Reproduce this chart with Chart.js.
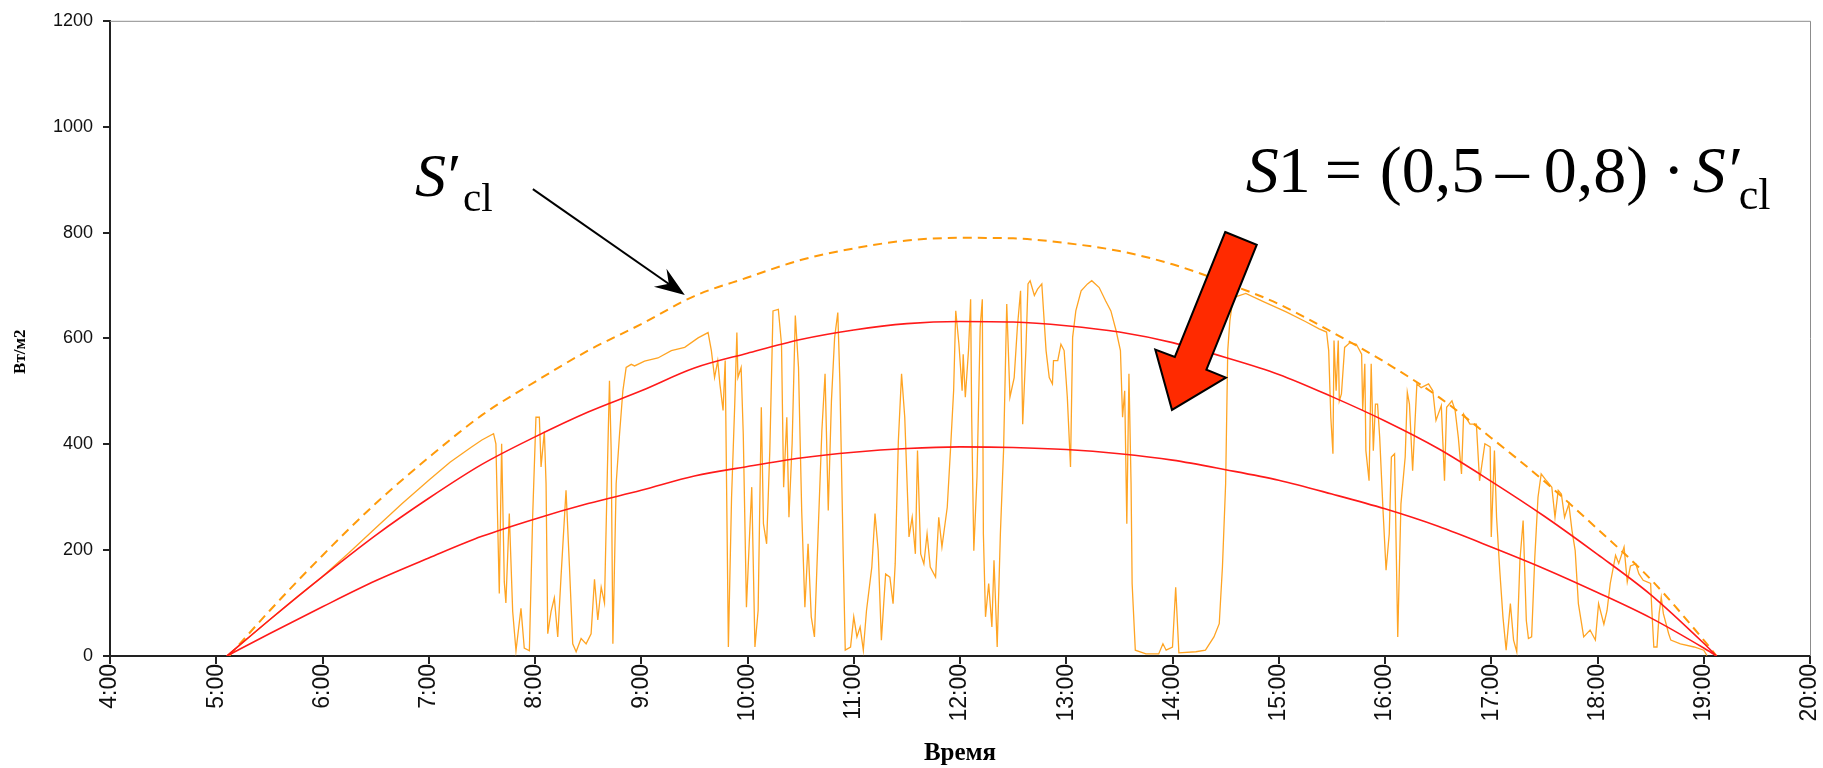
<!DOCTYPE html>
<html>
<head>
<meta charset="utf-8">
<script src="https://cdn.jsdelivr.net/npm/chart.js@4.4.1/dist/chart.umd.min.js"></script>
<style>
html,body{margin:0;padding:0;background:#fff;}
canvas{display:block;}
</style>
</head>
<body>
<canvas id="c" width="1823" height="768"></canvas>
<script>
// ---- data (hours of day, W/m2) ----
const xTickHours = [4,5,6,7,8,9,10,11,12,13,14,15,16,17,18,19,20];
const yTicks = [0,200,400,600,800,1000,1200];

const clearHours = [5.12,5.5,6.0,6.5,7.0,7.5,8.0,8.5,9.0,9.5,10.0,10.5,11.0,11.5,12.0,12.5,13.0,13.5,14.0,14.5,15.0,15.5,16.0,16.5,17.0,17.5,18.0,18.5,19.0,19.12];
const clearSky   = [0,85,190,288,375,455,518,577,627,680,715,748,770,785,790,789,780,765,740,705,665,612,555,490,412,330,240,145,30,0];

const s1Hours = [5.1,5.5,6.0,6.5,7.0,7.5,8.0,8.5,9.0,9.5,10.0,10.5,11.0,11.5,12.0,12.5,13.0,13.5,14.0,14.5,15.0,15.5,16.0,16.5,17.0,17.5,18.0,18.5,19.0,19.12];
const s1Upper = [0,68,150,228,298,362,414,461,501,544,572,598,616,628,632,631,624,612,592,564,532,490,444,392,330,264,192,116,24,0];
const s1Lower = [0,42,93,142,185,226,259,288,313,340,358,374,385,392,395,394,390,382,370,352,332,306,278,245,206,165,120,72,15,0];

const measuredHours = [
5.10,5.3,5.5,5.75,6.0,6.25,6.5,6.75,7.0,7.2,7.396,7.5,7.61,7.632,7.664,7.686,7.711,7.726,7.758,7.790,7.821,7.868,7.899,7.947,7.978,
8.009,8.041,8.057,8.088,8.104,8.120,8.151,8.182,8.214,8.245,8.292,8.324,8.355,8.387,8.434,8.481,8.528,8.560,8.591,8.623,8.654,8.686,8.701,8.717,8.733,8.764,8.796,8.827,8.858,8.906,8.937,
9.031,9.157,9.283,9.409,9.535,9.629,9.66,9.69,9.72,9.74,9.77,9.79,9.82,9.85,9.88,9.90,9.91,9.94,9.96,9.99,
10.02,10.04,10.07,10.10,10.13,10.15,10.18,10.21,10.24,10.29,10.32,10.34,10.37,10.39,10.42,10.45,10.48,10.51,10.54,10.57,10.60,10.63,10.67,10.70,10.73,10.76,10.79,10.82,10.85,10.87,10.90,10.92,10.97,
11.0,11.03,11.06,11.09,11.12,11.17,11.20,11.23,11.26,11.30,11.34,11.37,11.39,11.42,11.45,11.48,11.52,11.55,11.58,11.60,11.63,11.66,11.69,11.72,11.77,11.80,11.83,11.88,11.91,11.94,11.96,11.99,
12.02,12.03,12.05,12.08,12.10,12.11,12.13,12.16,12.19,12.21,12.22,12.24,12.27,12.30,12.32,12.35,12.38,12.41,12.44,12.47,12.51,12.54,12.57,12.59,12.62,12.64,12.66,12.70,12.73,12.77,12.81,12.84,12.87,12.88,12.92,12.95,12.98,
13.01,13.04,13.06,13.09,13.14,13.20,13.24,13.31,13.37,13.42,13.47,13.51,13.53,13.55,13.57,13.59,13.61,13.62,13.65,13.75,13.87,13.91,13.94,
14.0,14.03,14.06,14.22,14.31,14.39,14.44,14.47,14.50,14.52,14.54,14.57,14.69,14.85,
15.07,15.25,15.38,15.45,15.47,15.49,15.51,15.52,15.54,15.56,15.57,15.59,15.62,15.67,15.73,15.78,15.79,15.81,15.82,15.85,15.87,15.89,15.91,15.93,15.95,15.98,
16.01,16.04,16.06,16.09,16.12,16.15,16.19,16.21,16.23,16.26,16.30,16.34,16.41,16.45,16.48,16.53,16.56,16.58,16.63,16.66,16.69,16.72,16.74,16.80,16.86,16.89,16.94,16.99,
17.0,17.03,17.05,17.08,17.11,17.14,17.18,17.21,17.24,17.27,17.30,17.33,17.35,17.38,17.41,17.44,17.47,17.52,17.57,17.60,17.63,17.66,17.69,17.73,17.76,17.79,17.82,17.87,17.93,17.98,
18.01,18.06,18.09,18.12,18.17,18.20,18.25,18.28,18.31,18.36,18.39,18.43,18.50,18.51,18.53,18.56,18.58,18.60,18.62,18.67,18.69,18.78,18.91,19.0,19.03
];
const measuredValues = [
0,34,68,110,150,195,242,288,332,366,394,408,420,401,118,401,140,100,269,84,10,90,15,10,264,
451,451,357,424,326,42,84,110,36,150,313,170,23,8,33,23,42,145,68,130,100,394,520,388,23,326,420,501,545,551,548,
557,563,577,583,601,611,577,526,558,514,464,558,17,300,476,611,526,545,420,92,
231,319,17,86,470,250,212,388,652,655,589,319,451,262,401,643,545,275,92,212,74,36,262,426,533,275,482,602,649,514,199,11,17,
74,36,55,11,86,168,269,199,30,155,149,99,174,407,533,451,225,262,193,388,193,174,231,168,149,262,206,281,388,501,652,589,
501,570,489,577,674,451,199,338,621,674,231,74,137,55,181,17,231,388,665,489,526,621,690,438,577,703,709,681,693,703,577,526,514,558,558,589,577,
489,357,602,652,690,703,709,696,671,652,614,577,451,501,250,533,325,137,11,4,4,23,11,
17,130,6,8,11,36,61,168,325,577,633,677,685,670,
650,632,618,612,577,451,382,596,501,596,482,495,583,592,589,570,464,552,388,331,552,388,476,476,413,281,
162,231,376,382,36,287,376,498,476,350,514,507,514,501,445,473,331,470,482,464,413,344,457,438,438,331,401,395,
225,388,262,162,74,11,99,30,8,181,256,67,33,36,187,300,344,331,319,262,313,306,262,287,237,199,99,36,49,30,
99,60,86,137,190,175,206,140,170,174,155,143,137,92,17,17,80,111,80,42,30,23,17,11,1
];

// annotation anchors in data coordinates (hours, W/m2)
const blackArrow = {from:[7.98,882], to:[9.41,682]};
const redArrow = [[14.496,801],[14.793,777],[14.319,541],[14.503,526],[13.995,465],[13.838,579],[14.022,565]];
const labelScl = [6.87,869];
const labelFormula = [14.69,877];

const pts = (xs, ys) => xs.map((h,i)=>({x:h, y:ys[i]}));

const annot = {
  id:'annot',
  beforeDatasetsDraw(chart){
    const {ctx, chartArea:a} = chart;
    ctx.save();
    ctx.strokeStyle = '#8c8c8c';
    ctx.lineWidth = 1;
    ctx.beginPath();
    ctx.moveTo(a.left, a.top+0.5); ctx.lineTo(a.right+0.5, a.top+0.5); ctx.lineTo(a.right+0.5, a.bottom);
    ctx.stroke();
    ctx.restore();
  },
  afterDraw(chart){
    const {ctx, scales:{x,y}} = chart;
    const P = p => [x.getPixelForValue(p[0]), y.getPixelForValue(p[1])];
    const serif = '"Liberation Serif", "Times New Roman", serif';
    ctx.save();
    // y axis title
    ctx.save();
    ctx.translate(21, y.getPixelForValue(575));
    ctx.rotate(-Math.PI/2);
    ctx.font = 'bold 17px ' + serif; ctx.fillStyle = '#000';
    ctx.textAlign = 'center'; ctx.textBaseline = 'middle';
    ctx.fillText('Вт/м2', 0, 0);
    ctx.restore();
    // black arrow
    const [x0,y0] = P(blackArrow.from), [x1,y1] = P(blackArrow.to);
    const dx = x1-x0, dy = y1-y0, L = Math.hypot(dx,dy), ux = dx/L, uy = dy/L, nx = -uy, ny = ux;
    const hl = 30, hw = 11;
    ctx.strokeStyle = '#000'; ctx.lineWidth = 2;
    ctx.beginPath(); ctx.moveTo(x0,y0); ctx.lineTo(x1-ux*hl*0.6, y1-uy*hl*0.6); ctx.stroke();
    ctx.fillStyle = '#000';
    ctx.beginPath();
    ctx.moveTo(x1,y1);
    ctx.lineTo(x1-ux*hl+nx*hw, y1-uy*hl+ny*hw);
    ctx.lineTo(x1-ux*hl*0.65, y1-uy*hl*0.65);
    ctx.lineTo(x1-ux*hl-nx*hw, y1-uy*hl-ny*hw);
    ctx.closePath(); ctx.fill();
    // red block arrow
    ctx.beginPath();
    redArrow.forEach((p,i)=>{const [px,py]=P(p); if(i===0) ctx.moveTo(px,py); else ctx.lineTo(px,py);});
    ctx.closePath();
    ctx.fillStyle = '#ff2a00'; ctx.fill();
    ctx.strokeStyle = '#000'; ctx.lineWidth = 2; ctx.lineJoin='miter'; ctx.stroke();
    // texts
    ctx.fillStyle = '#000'; ctx.textBaseline = 'alphabetic'; ctx.textAlign = 'left';
    let [sx, sy] = P(labelScl);
    ctx.font = 'italic 62px ' + serif; ctx.fillText('S', sx, sy);
    ctx.fillText('\u2032', sx+29, sy);
    ctx.font = '41px ' + serif; ctx.fillText('cl', sx+48, sy+15);
    let [fx, fy] = P(labelFormula);
    ctx.font = 'italic 66px ' + serif; ctx.fillText('S', fx, fy);
    ctx.font = '66px ' + serif;
    ctx.fillText('1', fx+32, fy);
    ctx.fillText('=', fx+79, fy);
    ctx.fillText('(0,5', fx+134, fy);
    ctx.fillText('\u2013', fx+250, fy);
    ctx.fillText('0,8)', fx+298, fy);
    ctx.fillText('\u00b7', fx+417, fy);
    ctx.font = 'italic 66px ' + serif; ctx.fillText('S', fx+447, fy);
    ctx.fillText('\u2032', fx+479, fy);
    ctx.font = '44px ' + serif; ctx.fillText('cl', fx+493, fy+17);
    ctx.restore();
  }
};

new Chart(document.getElementById('c'), {
  type:'scatter',
  data:{
    datasets:[
      {label:'S1 0.8', data:pts(s1Hours,s1Upper), showLine:true, borderColor:'#ff1a1a', borderWidth:1.6, pointRadius:0, cubicInterpolationMode:'monotone', order:1},
      {label:'S1 0.5', data:pts(s1Hours,s1Lower), showLine:true, borderColor:'#ff1a1a', borderWidth:1.6, pointRadius:0, cubicInterpolationMode:'monotone', order:2},
      {label:"S'cl", data:pts(clearHours,clearSky), showLine:true, borderColor:'#ff9a0a', borderWidth:2, borderDash:[9,6], pointRadius:0, cubicInterpolationMode:'monotone', order:3},
      {label:'measured', data:pts(measuredHours,measuredValues), showLine:true, borderColor:'#ffa423', borderWidth:1.3, pointRadius:0, tension:0, order:4}
    ]
  },
  options:{
    responsive:false, animation:false, devicePixelRatio:1,
    layout:{padding:{top:19,right:0,left:0,bottom:0}},
    plugins:{legend:{display:false}, tooltip:{enabled:false}},
    scales:{
      x:{
        type:'linear', min:4, max:20, offset:false,
        afterFit(s){ s.height = 112; s.paddingRight = 13; },
        afterBuildTicks(s){ s.ticks = xTickHours.map(v=>({value:v})); },
        ticks:{ minRotation:90, maxRotation:90, autoSkip:false, padding:0, color:'#111',
          font:{family:'"Liberation Sans", Arial, sans-serif', size:23},
          callback:(v)=> v + ':00' },
        grid:{display:true, drawOnChartArea:false, drawTicks:true, tickLength:8, color:'#222', lineWidth:2},
        border:{display:true, color:'#222', width:2},
        title:{display:true, text:'Время', color:'#000', padding:{top:0,bottom:-1},
          font:{family:'"Liberation Serif", "Times New Roman", serif', size:25, weight:'bold'}}
      },
      y:{
        type:'linear', min:0, max:1200,
        afterFit(s){ s.width = 110; },
        afterBuildTicks(s){ s.ticks = yTicks.map(v=>({value:v})); },
        ticks:{ padding:10, color:'#111', font:{family:'"Liberation Sans", Arial, sans-serif', size:18},
          callback:(v)=> String(v) },
        grid:{display:true, drawOnChartArea:false, drawTicks:true, tickLength:7, color:'#222', lineWidth:2},
        border:{display:true, color:'#222', width:2},
        title:{display:false}
      }
    }
  },
  plugins:[annot]
});
</script>
</body>
</html>
